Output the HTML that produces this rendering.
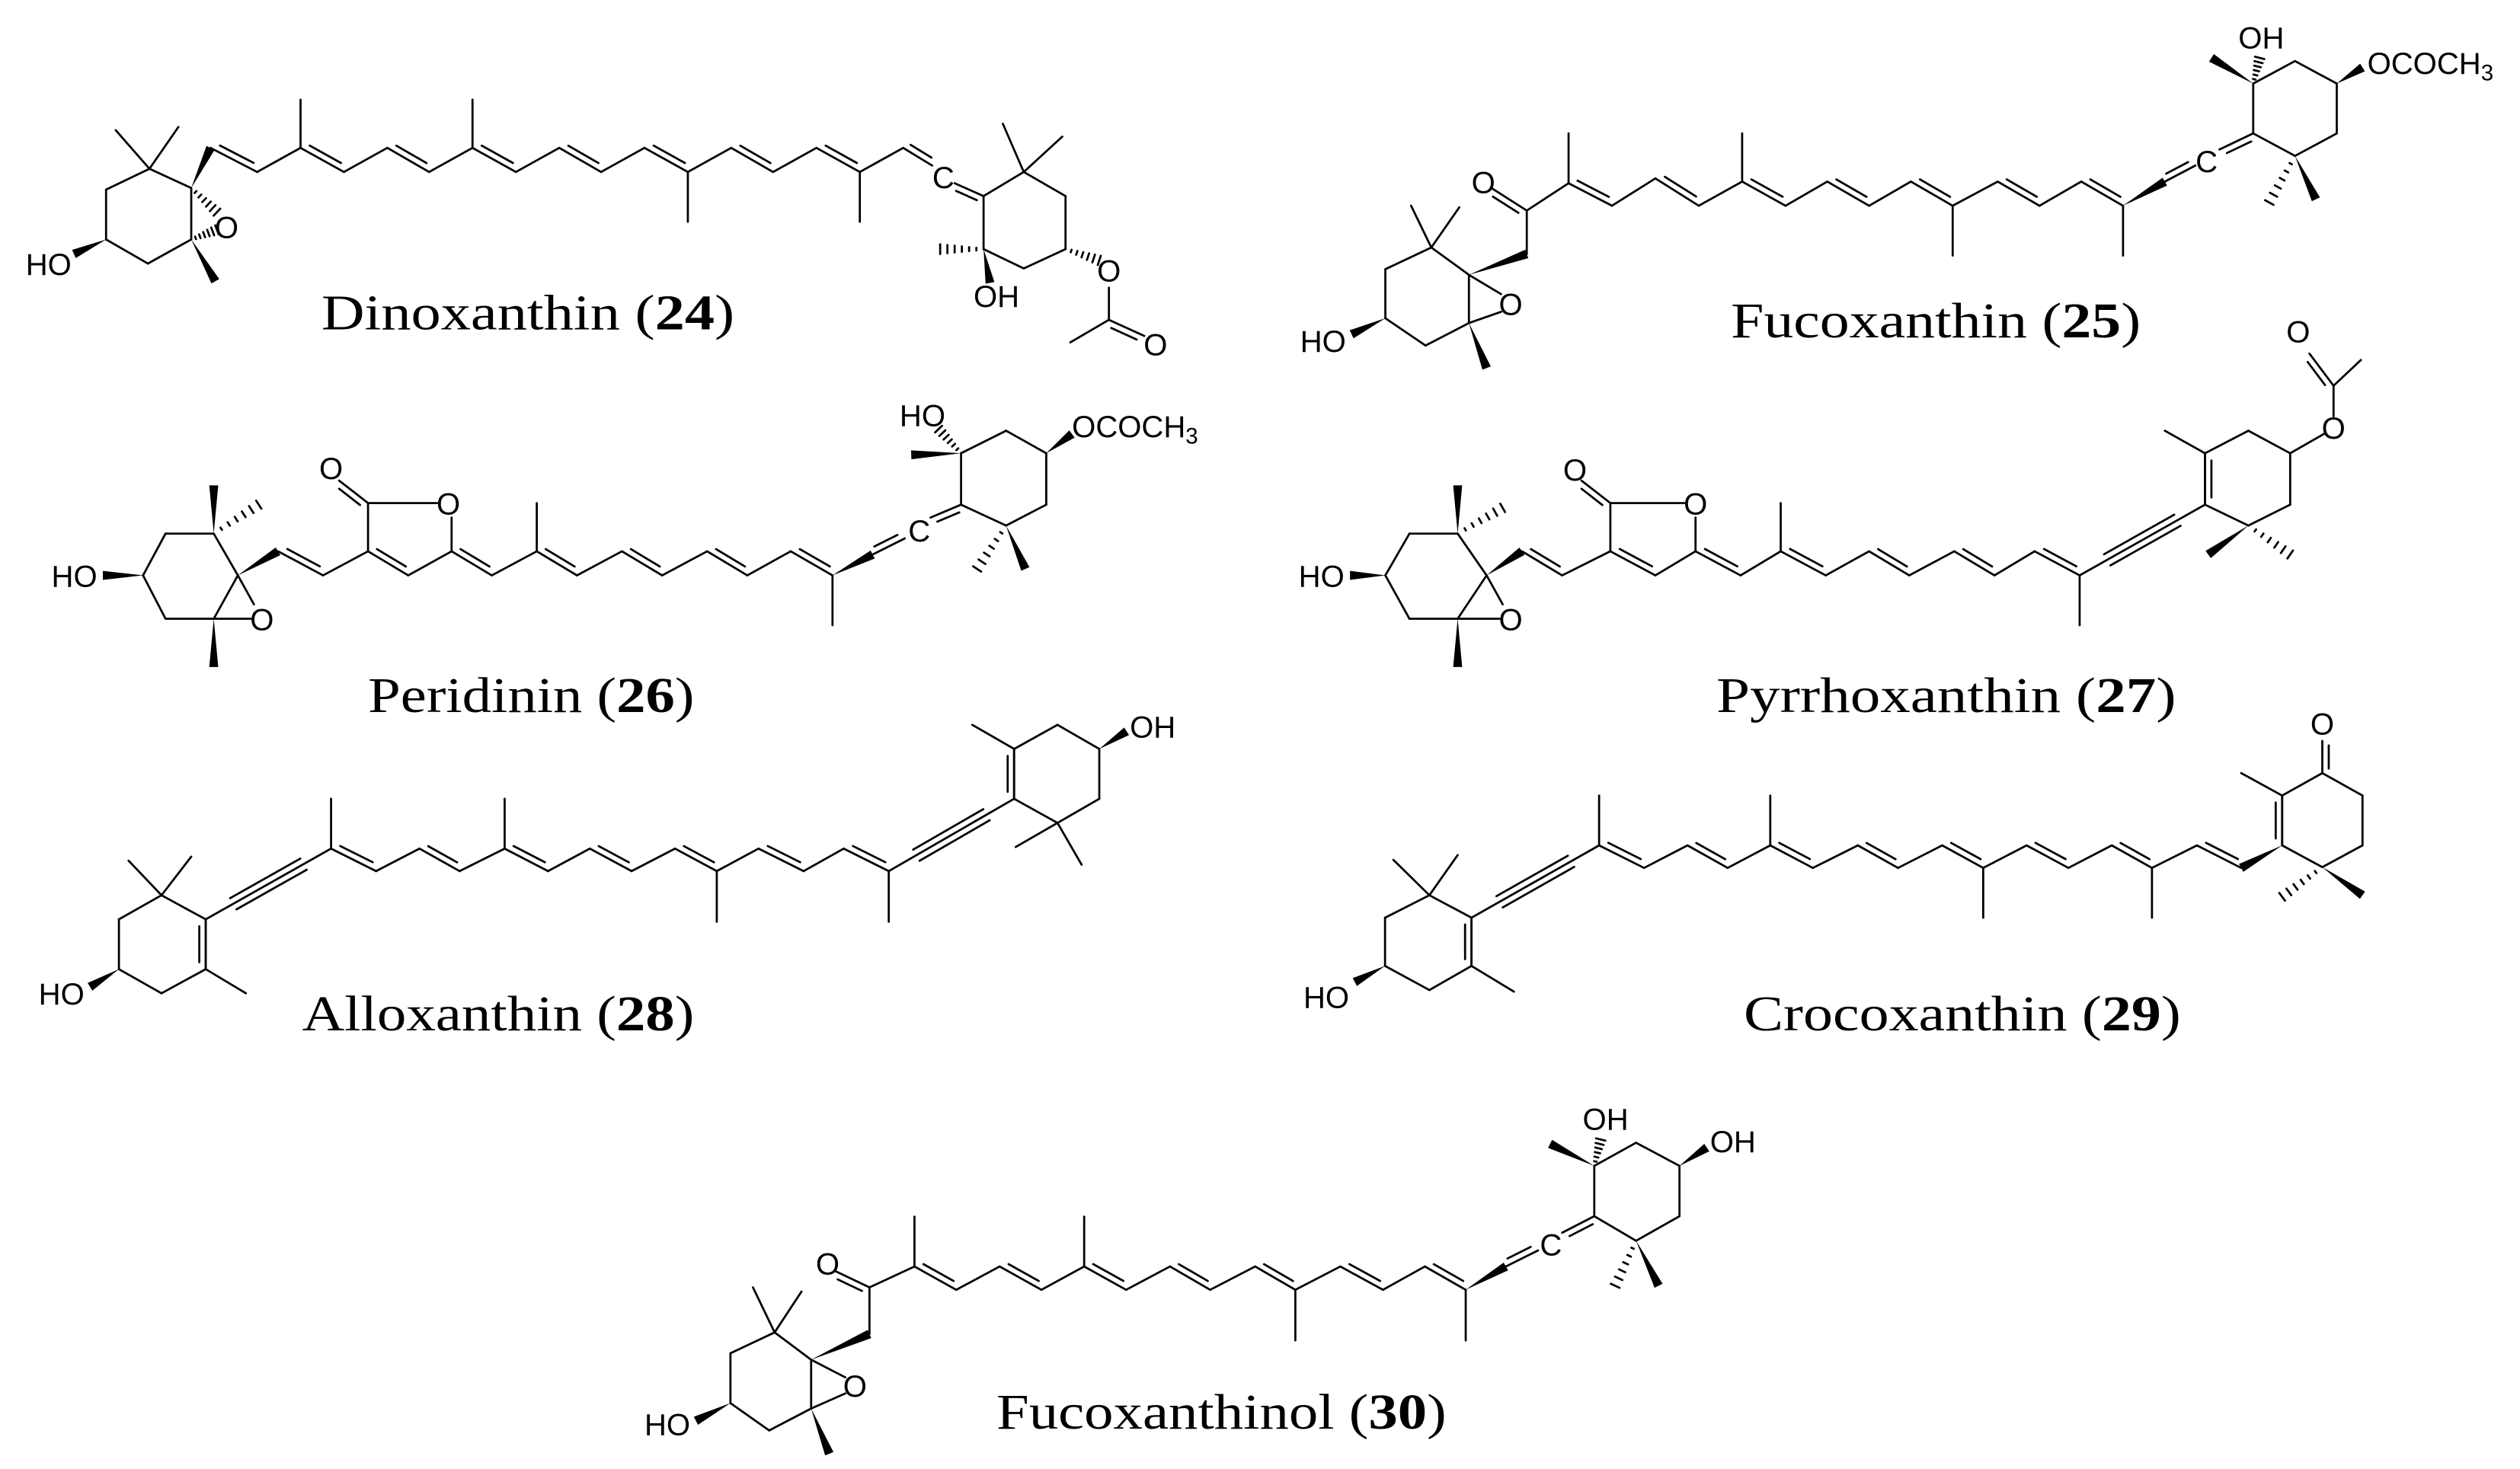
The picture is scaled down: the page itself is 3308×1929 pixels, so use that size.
<!DOCTYPE html>
<html><head><meta charset="utf-8"><style>
html,body{margin:0;padding:0;background:#fff;}
svg{display:block;}
.a{font-family:"Liberation Sans",Arial,sans-serif;font-size:19px;fill:#000;}
.t{font-family:"Liberation Serif","DejaVu Serif",serif;font-size:31px;fill:#000;}
</style></head><body>
<svg id="s" xmlns="http://www.w3.org/2000/svg" width="3308" height="1929" viewBox="0 0 1568 914" preserveAspectRatio="none">
<rect x="0" y="0" width="1568" height="914" fill="#fff"/>
<g id="b" stroke="#000" stroke-width="1.3" fill="none" stroke-linecap="round"></g>
<g id="w" fill="#000" stroke="none"></g>
<!-- labels -->
<text class="t" x="200" y="205" textLength="257" lengthAdjust="spacingAndGlyphs">Dinoxanthin (<tspan font-weight="bold">24</tspan>)</text>
<text class="t" x="1077" y="210" textLength="255" lengthAdjust="spacingAndGlyphs">Fucoxanthin (<tspan font-weight="bold">25</tspan>)</text>
<text class="t" x="229" y="443" textLength="203" lengthAdjust="spacingAndGlyphs">Peridinin (<tspan font-weight="bold">26</tspan>)</text>
<text class="t" x="1068" y="443" textLength="286" lengthAdjust="spacingAndGlyphs">Pyrrhoxanthin (<tspan font-weight="bold">27</tspan>)</text>
<text class="t" x="188" y="641" textLength="244" lengthAdjust="spacingAndGlyphs">Alloxanthin (<tspan font-weight="bold">28</tspan>)</text>
<text class="t" x="1085" y="641" textLength="272" lengthAdjust="spacingAndGlyphs">Crocoxanthin (<tspan font-weight="bold">29</tspan>)</text>
<text class="t" x="620" y="889" textLength="280" lengthAdjust="spacingAndGlyphs">Fucoxanthinol (<tspan font-weight="bold">30</tspan>)</text>
<!-- atom labels -->
<g class="a">
<text x="16" y="171">HO</text>
<text x="141" y="148" text-anchor="middle">O</text>
<text x="587" y="117" text-anchor="middle">C</text>
<text x="690" y="175" text-anchor="middle">O</text>
<text x="719" y="221" text-anchor="middle">O</text>
<text x="620" y="191" text-anchor="middle">OH</text>

<text x="809" y="219">HO</text>
<text x="940" y="196" text-anchor="middle">O</text>
<text x="923" y="120" text-anchor="middle">O</text>
<text x="1373" y="107" text-anchor="middle">C</text>
<text x="1407" y="30" text-anchor="middle">OH</text>
<text x="1473" y="46">OCOCH<tspan font-size="14" dy="4">3</tspan></text>

<text x="32" y="365">HO</text>
<text x="163" y="392" text-anchor="middle">O</text>
<text x="206" y="298" text-anchor="middle">O</text>
<text x="279" y="320" text-anchor="middle">O</text>
<text x="572" y="337" text-anchor="middle">C</text>
<text x="574" y="265" text-anchor="middle">HO</text>
<text x="667" y="272">OCOCH<tspan font-size="14" dy="4">3</tspan></text>

<text x="808" y="365">HO</text>
<text x="940" y="392" text-anchor="middle">O</text>
<text x="980" y="299" text-anchor="middle">O</text>
<text x="1055" y="320" text-anchor="middle">O</text>
<text x="1452" y="273" text-anchor="middle">O</text>
<text x="1430" y="213" text-anchor="middle">O</text>

<text x="24" y="625">HO</text>
<text x="703" y="459">OH</text>

<text x="811" y="627">HO</text>
<text x="1445" y="457" text-anchor="middle">O</text>

<text x="401" y="893">HO</text>
<text x="532" y="869" text-anchor="middle">O</text>
<text x="515" y="793" text-anchor="middle">O</text>
<text x="965" y="781" text-anchor="middle">C</text>
<text x="999" y="703" text-anchor="middle">OH</text>
<text x="1064" y="717">OH</text>
</g>
</svg>
<script>
var S=[],P=[];
function f(v){return Math.round(v*100)/100;}
function L(a,b,c,d){S.push('<line x1="'+f(a)+'" y1="'+f(b)+'" x2="'+f(c)+'" y2="'+f(d)+'"/>');}
function D(a,b,c,d,s){if(s===undefined)s=-1;L(a,b,c,d);var dx=c-a,dy=d-b,l=Math.hypot(dx,dy),nx=-dy/l*4*s,ny=dx/l*4*s,t=0.14;
 L(a+dx*t+nx,b+dy*t+ny,c-dx*t+nx,d-dy*t+ny);}
function T(a,b,c,d){L(a,b,c,d);var dx=c-a,dy=d-b,l=Math.hypot(dx,dy),nx=-dy/l*4,ny=dx/l*4,t0=0.22,t1=0.78;
 L(a+dx*t0+nx,b+dy*t0+ny,a+dx*t1+nx,b+dy*t1+ny);L(a+dx*t0-nx,b+dy*t0-ny,a+dx*t1-nx,b+dy*t1-ny);}
function W(a,b,c,d){var dx=c-a,dy=d-b,l=Math.hypot(dx,dy),nx=-dy/l*2.8,ny=dx/l*2.8;
 P.push('<polygon points="'+f(a)+','+f(b)+' '+f(c+nx)+','+f(d+ny)+' '+f(c-nx)+','+f(d-ny)+'"/>');}
function H(a,b,c,d){var dx=c-a,dy=d-b,l=Math.hypot(dx,dy),ux=-dy/l,uy=dx/l,n=6;
 for(var i=1;i<=n;i++){var t=i/n,x=a+dx*t,y=b+dy*t,h=0.4+2.6*t;L(x-ux*h,y-uy*h,x+ux*h,y+uy*h);}}
function R(p){for(var i=0;i<p.length;i++){var q=p[(i+1)%p.length];L(p[i][0],p[i][1],q[0],q[1]);}}
function C(p,dbl){for(var i=0;i<p.length-1;i++){if(dbl.indexOf(i)>=0)D(p[i][0],p[i][1],p[i+1][0],p[i+1][1],-1);else L(p[i][0],p[i][1],p[i+1][0],p[i+1][1]);}}

/* ---------- Dinoxanthin 24 ---------- */
R([[93,105],[66,118],[66,149],[92,164],[119,149],[119,117]]);
L(93,105,72,81);L(93,105,111,79);
W(119,117,131,92);W(119,149,134,175);W(66,149,46,158);
H(119,117,135,132);H(119,149,135,143);
C([[131,92],[160,107],[187,92],[214,107],[241,92],[267,107],[294,92],[321,107],[348,92],[374,107],[401,92],[428,107],[455,92],[481,107],[508,92],[535,107],[562,92]],[0,2,4,6,8,10,12,14]);
L(187,92,187,62);L(294,92,294,62);L(428,107,428,138);L(535,107,535,138);
D(562,92,580,103,-1);D(594,114,612,122,1);
R([[612,122],[637,107],[663,122],[663,155],[637,167],[612,155]]);
L(637,107,624,77);L(637,107,661,85);
H(663,155,684,162);L(690,179,690,199);L(690,199,666,213);D(690,199,712,209,1);
W(612,155,616,176);H(612,155,585,155);

/* ---------- Fucoxanthin 25 ---------- */
R([[890.6,154],[862,167.5],[862,198],[887,215],[914,201],[914,171]]);
L(890.6,154,878,128);L(890.6,154,908,129);
W(862,198,841,208);W(914,201,925,229);
L(914,171,934,183);L(914,201,934,194);
W(914,171,950,158);L(950,158,950,131);D(950,131,928,117,-1);
C([[950,131],[976,114],[1003,128],[1030,111],[1057,128],[1084,113],[1111,128],[1137,113],[1163,128],[1189,113],[1215,128],[1243,113],[1269,128],[1295,113],[1321,128]],[1,3,5,7,9,11,13]);
L(976,114,976,83);L(1084,113,1084,83);L(1215,128,1215,159);L(1321,128,1321,159);
W(1321,128,1347,113);D(1347,113,1366,103,-1);D(1381,93,1402,83,1);
R([[1402,83],[1402,52],[1428,38],[1454,52],[1454,83],[1428,97]]);
H(1402,52,1406,36);W(1402,52,1376,36);W(1454,52,1470,42);
H(1428,97,1412,126);W(1428,97,1441,124);

/* ---------- Peridinin 26 ---------- */
R([[133,332],[103,332],[89,358],[103,385],[133,385],[148,358]]);
W(133,332,133,302);H(133,332,161,314);W(89,358,64,358);W(133,385,133,415);
L(148,358,158,376);L(133,385,156,385);
W(148,358,173,343);D(173,343,201,358);L(201,358,229,343);D(229,343,254,358);L(254,358,281,343);
L(229,343,229,313);D(229,313,211,299,-1);L(229,313,272,313);L(281,322,281,343);
C([[281,343],[306,358],[334,343],[359,358],[387,343],[412,358],[440,343],[465,358],[492,343],[518,358]],[0,2,4,6,8]);
L(334,343,334,313);L(518,358,518,389);
W(518,358,543,345);D(543,345,563,335,-1);D(579,322,598,314,1);
R([[598,314],[598,282],[626,268],[651,282],[651,314],[626,327]]);
H(598,282,584,267);W(598,282,567,283);W(651,282,667,270);
H(626,327,608,354);W(626,327,638,354);

/* ---------- Pyrrhoxanthin 27 ---------- */
R([[907,332],[877,332],[862,358],[877,385],[907,385],[925,358]]);
W(907,332,907,302);H(907,332,935,316);W(862,358,840,358);W(907,385,907,415);
L(925,358,935,376);L(907,385,933,385);
W(925,358,947,343);D(947,343,972,358);L(972,358,1002,343);D(1002,343,1030,358);L(1030,358,1055,343);
L(1002,343,1002,313);D(1002,313,984,299,-1);L(1002,313,1048,313);L(1055,322,1055,343);
C([[1055,343],[1083,358],[1108,343],[1136,358],[1163,343],[1188,358],[1216,343],[1241,358],[1266,343],[1294,358]],[0,2,4,6,8]);
L(1108,343,1108,313);L(1294,358,1294,389);
T(1294,358,1372,314);
R([[1372,314],[1372,282],[1399,268],[1425,282],[1425,314],[1399,327]]);
L(1372,282+4,1372,282);D(1372,314,1372,282,1);
L(1372,282,1347,268);
W(1399,327,1374,345);H(1399,327,1425,345);
L(1425,282,1446,270);L(1452,259,1452,240);L(1452,240,1469,224);D(1452,240,1437,220,-1);

/* ---------- Alloxanthin 28 ---------- */
R([[100.5,557],[74,572],[74,603],[100.5,618],[128,603],[128,572]]);
D(128,572,128,603,1);
L(100.5,557,80,535.5);L(100.5,557,119,533);L(128,603,153,618);W(74,603,56,614);
T(128,572,206,528);
C([[206,528],[234,542],[261,528],[286,542],[314,528],[341,542],[367,528],[393,542],[420,528],[446,542],[472,528],[500,542],[525,528],[553,542]],[0,2,4,6,8,10,12]);
L(206,528,206,497);L(314,528,314,497);L(446,542,446,573.5);L(553,542,553,573.5);
T(553,542,631,497);
R([[631,497],[631,466],[658,451],[684,466],[684,497],[658,512]]);
D(631,497,631,466,-1);
L(631,466,605,451);W(684,466,701,455);L(658,512,632,527);L(658,512,673,538);

/* ---------- Crocoxanthin 29 ---------- */
R([[889.4,557],[861.8,571],[861.8,601],[889.4,616],[915.6,601],[915.6,571]]);
D(915.6,571,915.6,601,1);
L(889.4,557,867,535);L(889.4,557,907,532);L(915.6,601,942,617);W(861.8,601,843,611);
T(915.6,571,995,526);
C([[995,526],[1023,540],[1050,526],[1075,540],[1101.5,526],[1128,540],[1156,526],[1181,540],[1208.5,526],[1234,540],[1261,526],[1287,540],[1314,526],[1339,540],[1367,526],[1394.5,540]],[0,2,4,6,8,10,12,14]);
L(995,526,995,495);L(1101.5,526,1101.5,495);L(1234,540,1234,571);L(1339,540,1339,571);
W(1420,526,1394.5,540);
R([[1420,526],[1420,495],[1445,481],[1470,495],[1470,526],[1445,539.5]]);
D(1420,526,1420,495,-1);
L(1420,495,1394.5,481);D(1445,481,1445,461,1);
H(1445,539.5,1420,558);W(1445,539.5,1470,557);

/* ---------- Fucoxanthinol 30 ---------- */
R([[482,829],[454.5,842],[454.5,873],[478.6,890],[504.7,876.4],[504.7,846]]);
L(482,829,468.5,801);L(482,829,498.7,803.6);
W(454.5,873,433,884);W(504.7,876.4,516,904.5);
L(504.7,846,526,857);L(504.7,876.4,526,867);
W(504.7,846,541,830);L(541,830,541,801);D(541,801,520,791,-1);
C([[541,801],[569,788],[595,802.5],[622,788],[648,802.5],[674.6,788],[700.7,802.5],[728,788],[753,802.5],[781,788],[806,802.5],[834,788],[860.5,802.5],[886.6,788],[912,802.5]],[1,3,5,7,9,11,13]);
L(569,788,569,757);L(674.6,788,674.6,757);L(806,802.5,806,834);L(912,802.5,912,834);
W(912,802.5,937,788);D(937,788,957,778,-1);D(972,767,992,756.7,1);
R([[992,756.7],[992,725.4],[1018,711],[1045,725.4],[1045,756.7],[1018,772]]);
H(992,725.4,996,709);W(992,725.4,964.5,711.7);W(1045,725.4,1062,714);
H(1018,772,1005,800);W(1018,772,1032,800);

document.getElementById('b').innerHTML=S.join('');
document.getElementById('w').innerHTML=P.join('');
</script>
</body></html>
